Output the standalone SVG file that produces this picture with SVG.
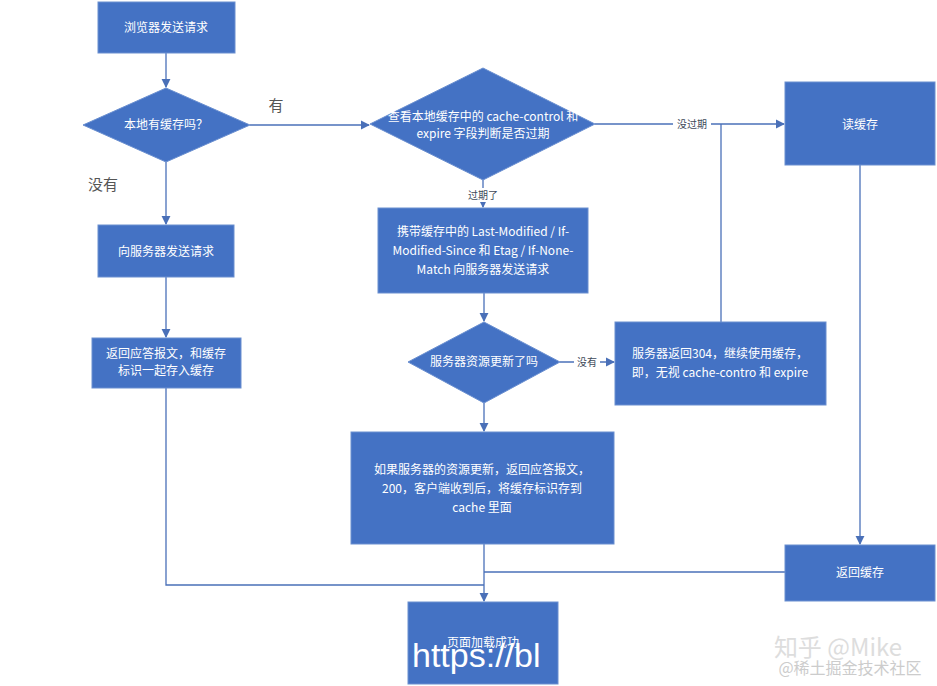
<svg xmlns="http://www.w3.org/2000/svg" width="937" height="686" viewBox="0 0 937 686">
<style>
.n{fill:#4472c4;stroke:#6a8fd0;stroke-width:1}
.t{fill:#fff;font-family:"Noto Sans CJK SC","Liberation Sans",sans-serif;font-size:12px;text-anchor:middle}
.l{fill:none;stroke:#4a70b8;stroke-width:1.3}
.lb{fill:#404a5a;font-family:"Noto Sans CJK SC",sans-serif;font-size:10px;text-anchor:middle}
.bg{fill:#fff}
</style>
<defs><marker id="a" viewBox="0 0 10 10" refX="9" refY="5" markerWidth="7" markerHeight="7" orient="auto"><path d="M0,0L10,5L0,10z" fill="#4a70b8"/></marker></defs>
<rect width="937" height="686" fill="#fff"/>
<g id="connectors">
<path class="l" d="M166,53V87" marker-end="url(#a)"/>
<path class="l" d="M250,125H369" marker-end="url(#a)"/>
<path class="l" d="M166,162V224" marker-end="url(#a)"/>
<path class="l" d="M166,277V337" marker-end="url(#a)"/>
<path class="l" d="M166,388V585H484"/>
<path class="l" d="M595,124H784" marker-end="url(#a)"/>
<path class="l" d="M483,180V207" marker-end="url(#a)"/>
<path class="l" d="M484,293V321" marker-end="url(#a)"/>
<path class="l" d="M560,362H614" marker-end="url(#a)"/>
<path class="l" d="M721,322V124"/>
<path class="l" d="M484,403V431" marker-end="url(#a)"/>
<path class="l" d="M484,544V601" marker-end="url(#a)"/>
<path class="l" d="M860,165V544" marker-end="url(#a)"/>
<path class="l" d="M785,572H484"/>
<rect class="bg" x="673" y="117" width="38" height="14"/>
<text class="lb" x="692" y="128">没过期</text>
<rect class="bg" x="465" y="188" width="36" height="14"/>
<text class="lb" x="483" y="199">过期了</text>
<rect class="bg" x="574" y="355" width="26" height="14"/>
<text class="lb" x="587" y="366">没有</text>
<text x="276" y="111" style="fill:#555;font-family:'Noto Sans CJK SC',sans-serif;font-size:15px;text-anchor:middle">有</text>
<text x="103" y="190" style="fill:#555;font-family:'Noto Sans CJK SC',sans-serif;font-size:15px;text-anchor:middle">没有</text>
</g>
<g id="n1"><rect class="n" x="98" y="2" width="137" height="51"/><text class="t" x="166" y="32">浏览器发送请求</text></g>
<g id="n2"><path class="n" d="M83,125L166,88L250,125L166,162Z"/><text class="t" x="166" y="129">本地有缓存吗？</text></g>
<g id="n3"><rect class="n" x="98" y="225" width="136" height="52"/><text class="t" x="166" y="256">向服务器发送请求</text></g>
<g id="n4"><rect class="n" x="92" y="338" width="149" height="50"/><text class="t" x="166" y="358">返回应答报文，和缓存</text><text class="t" x="166" y="375">标识一起存入缓存</text></g>
<g id="n5"><path class="n" d="M370,124L483,68L595,124L483,180Z"/><text class="t" x="483" y="121">查看本地缓存中的 cache-control 和</text><text class="t" x="483" y="138">expire 字段判断是否过期</text></g>
<g id="n6"><rect class="n" x="378" y="208" width="210" height="85"/><text class="t" x="483" y="236">携带缓存中的 Last-Modified / If-</text><text class="t" x="483" y="255">Modified-Since 和 Etag / If-None-</text><text class="t" x="483" y="274">Match 向服务器发送请求</text></g>
<g id="n7"><path class="n" d="M408,362L484,322L560,362L484,403Z"/><text class="t" x="484" y="366">服务器资源更新了吗</text></g>
<g id="n8"><rect class="n" x="615" y="322" width="211" height="83"/><text class="t" x="720" y="358">服务器返回304，继续使用缓存，</text><text class="t" x="720" y="377">即，无视 cache-contro 和 expire</text></g>
<g id="n9"><rect class="n" x="351" y="432" width="263" height="112"/><text class="t" x="482" y="474">如果服务器的资源更新，返回应答报文，</text><text class="t" x="482" y="493">200，客户端收到后，将缓存标识存到</text><text class="t" x="482" y="512">cache 里面</text></g>
<g id="n10"><rect class="n" x="408" y="602" width="150" height="82"/><text class="t" x="483" y="647">页面加载成功</text>
<svg x="408" y="602" width="150" height="82"><text x="4" y="65" style="fill:#fff;font-family:'Liberation Sans',sans-serif;font-size:34px">https://bl</text></svg></g>
<g id="n11"><rect class="n" x="785" y="82" width="150" height="83"/><text class="t" x="860" y="129">读缓存</text></g>
<g id="n12"><rect class="n" x="785" y="545" width="150" height="56"/><text class="t" x="860" y="577">返回缓存</text></g>
<text x="838" y="656" style="fill:#ddd;font-family:'Noto Sans CJK SC',sans-serif;font-size:24px;text-anchor:middle">知乎 @Mike</text>
<text x="850" y="674" style="fill:#ccc;font-family:'Noto Sans CJK SC',sans-serif;font-size:16px;text-anchor:middle">@稀土掘金技术社区</text>
</svg>
